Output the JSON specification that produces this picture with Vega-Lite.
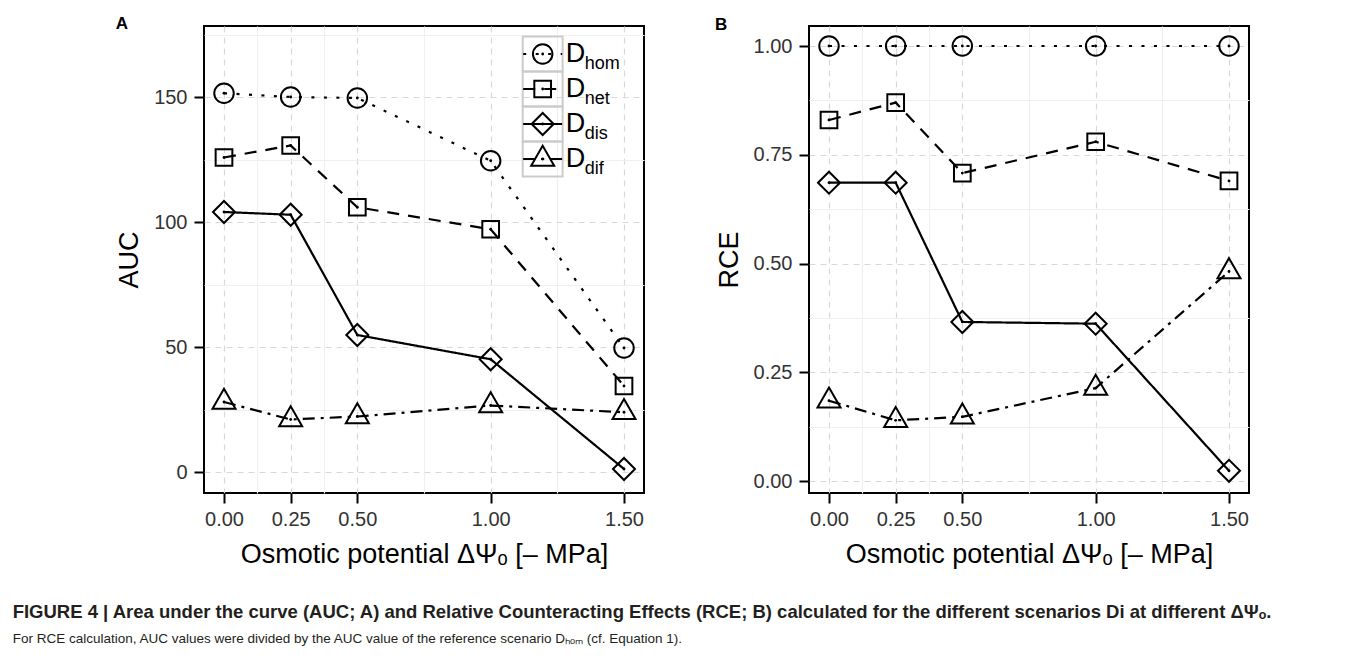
{
  "$schema": "https://vega.github.io/schema/vega-lite/v6.json",
  "background": "white",
  "autosize": {"type": "pad"},
  "padding": {"left": 12, "top": 13, "right": 5, "bottom": 5},
  "config": {
    "font": "Liberation Sans",
    "view": {"stroke": "black", "strokeWidth": 2},
    "axis": {
      "domain": false,
      "tickColor": "black",
      "tickWidth": 2,
      "tickSize": 10,
      "labelFontSize": 20,
      "labelColor": "#333333",
      "labelPadding": 7,
      "labelOverlap": false,
      "labelFlush": false,
      "labelBound": false,
      "titleFontSize": 27,
      "titleFontWeight": "normal",
      "titleColor": "black",
      "gridWidth": 1.2
    },
    "axisX": {"labelPadding": 6, "titlePadding": 12},
    "axisY": {"titlePadding": 10}
  },
  "title": {
    "text": "FIGURE 4 | Area under the curve (AUC; A) and Relative Counteracting Effects (RCE; B) calculated for the different scenarios Di at different ΔΨₒ.",
    "subtitle": "For RCE calculation, AUC values were divided by the AUC value of the reference scenario Dₕₒₘ (cf. Equation 1).",
    "orient": "bottom",
    "anchor": "start",
    "dx": -102,
    "offset": 35,
    "font": "Liberation Sans",
    "fontSize": 18.5,
    "fontWeight": "bold",
    "color": "#231f20",
    "subtitleFont": "Liberation Sans",
    "subtitleFontSize": 13.5,
    "subtitleColor": "#231f20",
    "subtitlePadding": 10
  },
  "datasets": {
    "d": [
      {"x": 0, "s": "hom", "auc": 151.5, "rce": 1.0},
      {"x": 0.25, "s": "hom", "auc": 150.0, "rce": 1.0},
      {"x": 0.5, "s": "hom", "auc": 149.6, "rce": 1.0},
      {"x": 1, "s": "hom", "auc": 124.5, "rce": 1.0},
      {"x": 1.5, "s": "hom", "auc": 49.6, "rce": 1.0},
      {"x": 0, "s": "net", "auc": 125.8, "rce": 0.83},
      {"x": 0.25, "s": "net", "auc": 130.6, "rce": 0.87},
      {"x": 0.5, "s": "net", "auc": 105.9, "rce": 0.708},
      {"x": 1, "s": "net", "auc": 97.1, "rce": 0.78},
      {"x": 1.5, "s": "net", "auc": 34.4, "rce": 0.69},
      {"x": 0, "s": "dis", "auc": 104.0, "rce": 0.686},
      {"x": 0.25, "s": "dis", "auc": 102.9, "rce": 0.686},
      {"x": 0.5, "s": "dis", "auc": 54.8, "rce": 0.366},
      {"x": 1, "s": "dis", "auc": 45.1, "rce": 0.362},
      {"x": 1.5, "s": "dis", "auc": 1.2, "rce": 0.024},
      {"x": 0, "s": "dif", "auc": 28.0, "rce": 0.185},
      {"x": 0.25, "s": "dif", "auc": 21.0, "rce": 0.14},
      {"x": 0.5, "s": "dif", "auc": 22.2, "rce": 0.148},
      {"x": 1, "s": "dif", "auc": 26.6, "rce": 0.214},
      {"x": 1.5, "s": "dif", "auc": 23.9, "rce": 0.482}
    ],
    "leg": [{"s": "hom"}, {"s": "net"}, {"s": "dis"}, {"s": "dif"}]
  },
  "spacing": 69,
  "hconcat": [
    {
      "width": 440,
      "height": 467,
      "title": {"text": "A", "anchor": "start", "fontSize": 17, "fontWeight": "bold", "baseline": "top", "offset": -8, "color": "black"},
      "layer": [
        {
          "data": {"name": "d"},
          "encoding": {
            "x": {
              "field": "x", "type": "quantitative",
              "scale": {"domain": [-0.075, 1.575], "nice": false, "zero": false},
              "axis": {
                "title": "Osmotic potential ΔΨₒ [– MPa]",
                "values": [0, 0.125, 0.25, 0.375, 0.5, 0.75, 1, 1.25, 1.5],
                "labelExpr": "indexof([0,0.25,0.5,1,1.5], datum.value) >= 0 ? format(datum.value, '.2f') : ''",
                "tickOpacity": {"condition": {"test": "indexof([0,0.25,0.5,1,1.5], datum.value) < 0", "value": 0}, "value": 1},
                "gridColor": {"condition": {"test": "indexof([0,0.25,0.5,1,1.5], datum.value) < 0", "value": "#f0f0f0"}, "value": "#d9d9d9"},
                "gridDash": {"condition": {"test": "indexof([0,0.25,0.5,1,1.5], datum.value) < 0", "value": []}, "value": [6, 5]}
              }
            },
            "y": {
              "field": "auc", "type": "quantitative",
              "scale": {"domain": [-8.4, 178.4], "nice": false, "zero": false},
              "axis": {
                "title": "AUC",
                "values": [0, 25, 50, 75, 100, 125, 150, 175],
                "labelExpr": "datum.value % 50 == 0 ? datum.label : ''",
                "tickOpacity": {"condition": {"test": "datum.value % 50 != 0", "value": 0}, "value": 1},
                "gridColor": {"condition": {"test": "datum.value % 50 != 0", "value": "#f0f0f0"}, "value": "#d9d9d9"},
                "gridDash": {"condition": {"test": "datum.value % 50 != 0", "value": []}, "value": [6, 5]}
              }
            }
          },
          "layer": [
            {
              "mark": {"type": "line", "color": "black", "strokeWidth": 2.2, "strokeCap": "butt"},
              "encoding": {
                "detail": {"field": "s"},
                "strokeDash": {"field": "s", "type": "nominal", "legend": null,
                  "scale": {"domain": ["hom", "net", "dis", "dif"], "range": [[3, 9.5], [12, 9], [1, 0], [12, 6, 3, 6]]}}
              }
            },
            {
              "mark": {"type": "point", "filled": false, "color": "black", "strokeWidth": 2, "size": 529, "opacity": 1},
              "encoding": {
                "shape": {"field": "s", "type": "nominal", "legend": null,
                  "scale": {"domain": ["hom", "net", "dis", "dif"], "range": [
                    "M-0.848,0A0.848,0.848 0 1,0 0.848,0A0.848,0.848 0 1,0 -0.848,0Z",
                    "M-0.726,-0.726H0.726V0.726H-0.726Z",
                    "M-0.957,0L0,-0.957L0.957,0L0,0.957Z",
                    "M0,-1.16L1,0.58L-1,0.58Z"]}}
              }
            },
            {
              "mark": {"type": "point", "filled": true, "color": "black", "size": 8, "opacity": 1}
            }
          ]
        },
        {
          "data": {"name": "leg"},
          "encoding": {
            "y": {"field": "s", "type": "nominal", "axis": null,
              "scale": {"type": "point", "domain": ["hom", "net", "dis", "dif"], "range": [28, 133], "padding": 0}}
          },
          "layer": [
            {
              "mark": {"type": "point", "filled": false, "stroke": "#cbcbcb", "strokeWidth": 2, "size": 1225, "opacity": 1,
                "shape": "M-1.14,-1H1.14V1H-1.14Z"},
              "encoding": {"x": {"datum": 1.195, "type": "quantitative"}}
            },
            {
              "mark": {"type": "rule", "color": "black", "strokeWidth": 2.2, "strokeCap": "butt"},
              "encoding": {
                "x": {"datum": 1.122, "type": "quantitative"},
                "x2": {"datum": 1.268},
                "strokeDash": {"field": "s", "type": "nominal", "legend": null}
              }
            },
            {
              "mark": {"type": "point", "filled": false, "color": "black", "strokeWidth": 2, "size": 529, "opacity": 1},
              "encoding": {
                "x": {"datum": 1.195, "type": "quantitative"},
                "shape": {"field": "s", "type": "nominal", "legend": null}
              }
            },
            {
              "mark": {"type": "point", "filled": true, "color": "black", "size": 8, "opacity": 1},
              "encoding": {"x": {"datum": 1.195, "type": "quantitative"}}
            },
            {
              "mark": {"type": "text", "align": "left", "baseline": "middle", "fontSize": 27, "dx": 23, "color": "black", "font": "Liberation Sans"},
              "encoding": {"x": {"datum": 1.195, "type": "quantitative"}, "text": {"value": "D"}}
            },
            {
              "mark": {"type": "text", "align": "left", "baseline": "middle", "fontSize": 18, "dx": 42, "dy": 10, "color": "black", "font": "Liberation Sans"},
              "encoding": {"x": {"datum": 1.195, "type": "quantitative"}, "text": {"field": "s"}}
            }
          ]
        }
      ],
      "resolve": {"scale": {"y": "independent"}}
    },
    {
      "width": 440,
      "height": 467,
      "title": {"text": "B", "anchor": "start", "fontSize": 17, "fontWeight": "bold", "baseline": "top", "offset": -8, "color": "black"},
      "data": {"name": "d"},
      "encoding": {
        "x": {
          "field": "x", "type": "quantitative",
          "scale": {"domain": [-0.075, 1.575], "nice": false, "zero": false},
          "axis": {
            "title": "Osmotic potential ΔΨₒ [– MPa]",
            "values": [0, 0.125, 0.25, 0.375, 0.5, 0.75, 1, 1.25, 1.5],
            "labelExpr": "indexof([0,0.25,0.5,1,1.5], datum.value) >= 0 ? format(datum.value, '.2f') : ''",
            "tickOpacity": {"condition": {"test": "indexof([0,0.25,0.5,1,1.5], datum.value) < 0", "value": 0}, "value": 1},
            "gridColor": {"condition": {"test": "indexof([0,0.25,0.5,1,1.5], datum.value) < 0", "value": "#f0f0f0"}, "value": "#d9d9d9"},
            "gridDash": {"condition": {"test": "indexof([0,0.25,0.5,1,1.5], datum.value) < 0", "value": []}, "value": [6, 5]}
          }
        },
        "y": {
          "field": "rce", "type": "quantitative",
          "scale": {"domain": [-0.027, 1.046], "nice": false, "zero": false},
          "axis": {
            "title": "RCE",
            "values": [0, 0.125, 0.25, 0.375, 0.5, 0.625, 0.75, 0.875, 1],
            "labelExpr": "indexof([0,0.25,0.5,0.75,1], datum.value) >= 0 ? format(datum.value, '.2f') : ''",
            "tickOpacity": {"condition": {"test": "indexof([0,0.25,0.5,0.75,1], datum.value) < 0", "value": 0}, "value": 1},
            "gridColor": {"condition": {"test": "indexof([0,0.25,0.5,0.75,1], datum.value) < 0", "value": "#f0f0f0"}, "value": "#d9d9d9"},
            "gridDash": {"condition": {"test": "indexof([0,0.25,0.5,0.75,1], datum.value) < 0", "value": []}, "value": [6, 5]}
          }
        }
      },
      "layer": [
        {
          "mark": {"type": "line", "color": "black", "strokeWidth": 2.2, "strokeCap": "butt"},
          "encoding": {
            "detail": {"field": "s"},
            "strokeDash": {"field": "s", "type": "nominal", "legend": null,
              "scale": {"domain": ["hom", "net", "dis", "dif"], "range": [[3, 9.5], [12, 9], [1, 0], [12, 6, 3, 6]]}}
          }
        },
        {
          "mark": {"type": "point", "filled": false, "color": "black", "strokeWidth": 2, "size": 529, "opacity": 1},
          "encoding": {
            "shape": {"field": "s", "type": "nominal", "legend": null,
              "scale": {"domain": ["hom", "net", "dis", "dif"], "range": [
                "M-0.848,0A0.848,0.848 0 1,0 0.848,0A0.848,0.848 0 1,0 -0.848,0Z",
                "M-0.726,-0.726H0.726V0.726H-0.726Z",
                "M-0.957,0L0,-0.957L0.957,0L0,0.957Z",
                "M0,-1.16L1,0.58L-1,0.58Z"]}}
          }
        },
        {
          "mark": {"type": "point", "filled": true, "color": "black", "size": 8, "opacity": 1}
        }
      ]
    }
  ]
}
